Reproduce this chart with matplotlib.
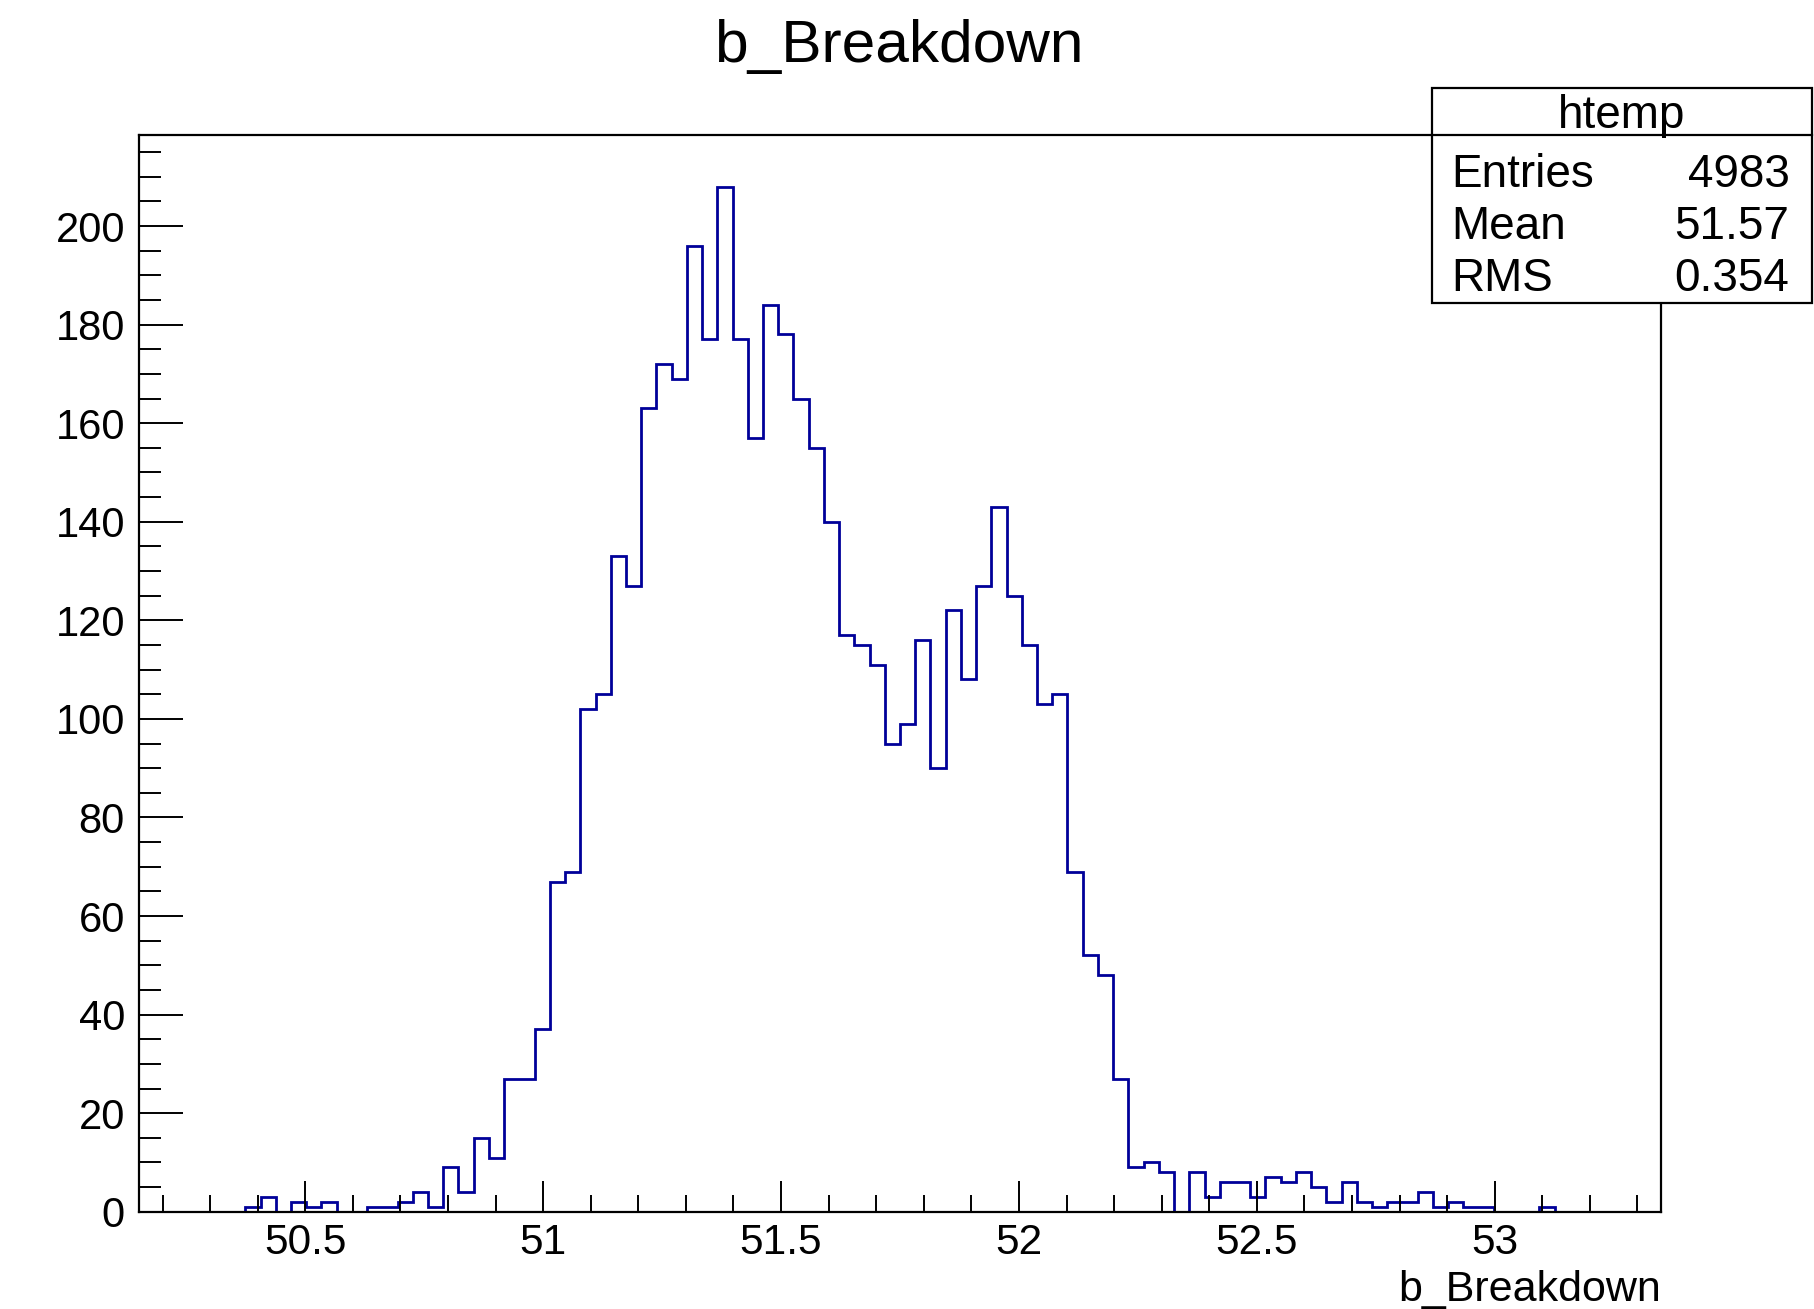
import matplotlib
matplotlib.use('Agg')
import matplotlib.pyplot as plt
from matplotlib.patches import Rectangle
from matplotlib.ticker import MultipleLocator, FormatStrFormatter
import numpy as np

plt.rcParams['font.family'] = ['Liberation Sans', 'DejaVu Sans']

# histogram htemp: 100 bins between 50.15 and 53.35
xMin = 50.15
xMax = 53.35
counts = [0, 0, 0, 0, 0, 0, 0, 1, 3, 0,
	2, 1, 2, 0, 0, 1, 1, 2, 4, 1,
	9, 4, 15, 11, 27, 27, 37, 67, 69, 102,
	105, 133, 127, 163, 172, 169, 196, 177, 208, 177,
	157, 184, 178, 165, 155, 140, 117, 115, 111, 95,
	99, 116, 90, 122, 108, 127, 143, 125, 115, 103,
	105, 69, 52, 48, 27, 9, 10, 8, 0, 8,
	3, 6, 6, 3, 7, 6, 8, 5, 2, 6,
	2, 1, 2, 2, 4, 1, 2, 1, 1, 0,
	0, 0, 1, 0, 0, 0, 0, 0, 0, 0]
statNames = ["Entries", "Mean", "RMS"]
statValues = ["4983", "51.57", "0.354"]
histName = "htemp"
varName = "b_Breakdown"

edges = np.linspace(xMin, xMax, len(counts) + 1)

fig = plt.figure(figsize = (18.14, 13.09), dpi = 100)
ax = fig.add_axes([0.0765, 0.0743, 0.9158 - 0.0765, 0.8966 - 0.0743])

ax.stairs(counts, edges, color = "#000099", linewidth = 2.0)

ax.set_xlim(xMin, xMax)
ax.set_ylim(0, max(counts) * 1.05)

ax.xaxis.set_major_locator(MultipleLocator(0.5))
ax.xaxis.set_minor_locator(MultipleLocator(0.1))
ax.xaxis.set_major_formatter(FormatStrFormatter("%g"))
ax.yaxis.set_major_locator(MultipleLocator(20))
ax.yaxis.set_minor_locator(MultipleLocator(5))

ax.tick_params(axis = "x", which = "major", direction = "in", length = 22, width = 1.4, labelsize = 30.5, pad = 8)
ax.tick_params(axis = "x", which = "minor", direction = "in", length = 12, width = 1.4)
ax.tick_params(axis = "y", which = "major", direction = "in", length = 32, width = 1.4, labelsize = 30, pad = 10)
ax.tick_params(axis = "y", which = "minor", direction = "in", length = 16, width = 1.4)
for spine in ax.spines.values():
	spine.set_linewidth(1.6)

ax.set_xlabel(varName, fontsize = 31, loc = "right", labelpad = 5)

fig.text(0.4955, 0.9646, varName, fontsize = 43.5, ha = "center", va = "center")

# stats box
boxLeft = 0.7895
boxRight = 0.9987
boxTop = 0.9328
boxBottom = 0.7683
fig.patches.append(Rectangle((boxLeft, boxBottom), boxRight - boxLeft, boxTop - boxBottom,
	transform = fig.transFigure, facecolor = "white", edgecolor = "black", linewidth = 1.6, zorder = 5))
fig.lines.append(plt.Line2D([boxLeft, boxRight], [0.8966, 0.8966], transform = fig.transFigure, color = "black", linewidth = 1.6, zorder = 6))
fig.text((boxLeft + boxRight) / 2, 0.9112, histName, fontsize = 33, ha = "center", va = "center", zorder = 7)
rowY = [0.8664, 0.8267, 0.7869]
for name, value, y in zip(statNames, statValues, rowY):
	fig.text(0.8000, y, name, fontsize = 33, ha = "left", va = "center", zorder = 7)
	fig.text(0.9865, y, value, fontsize = 33, ha = "right", va = "center", zorder = 7)

fig.savefig("out.png", dpi = 100, facecolor = "white")
